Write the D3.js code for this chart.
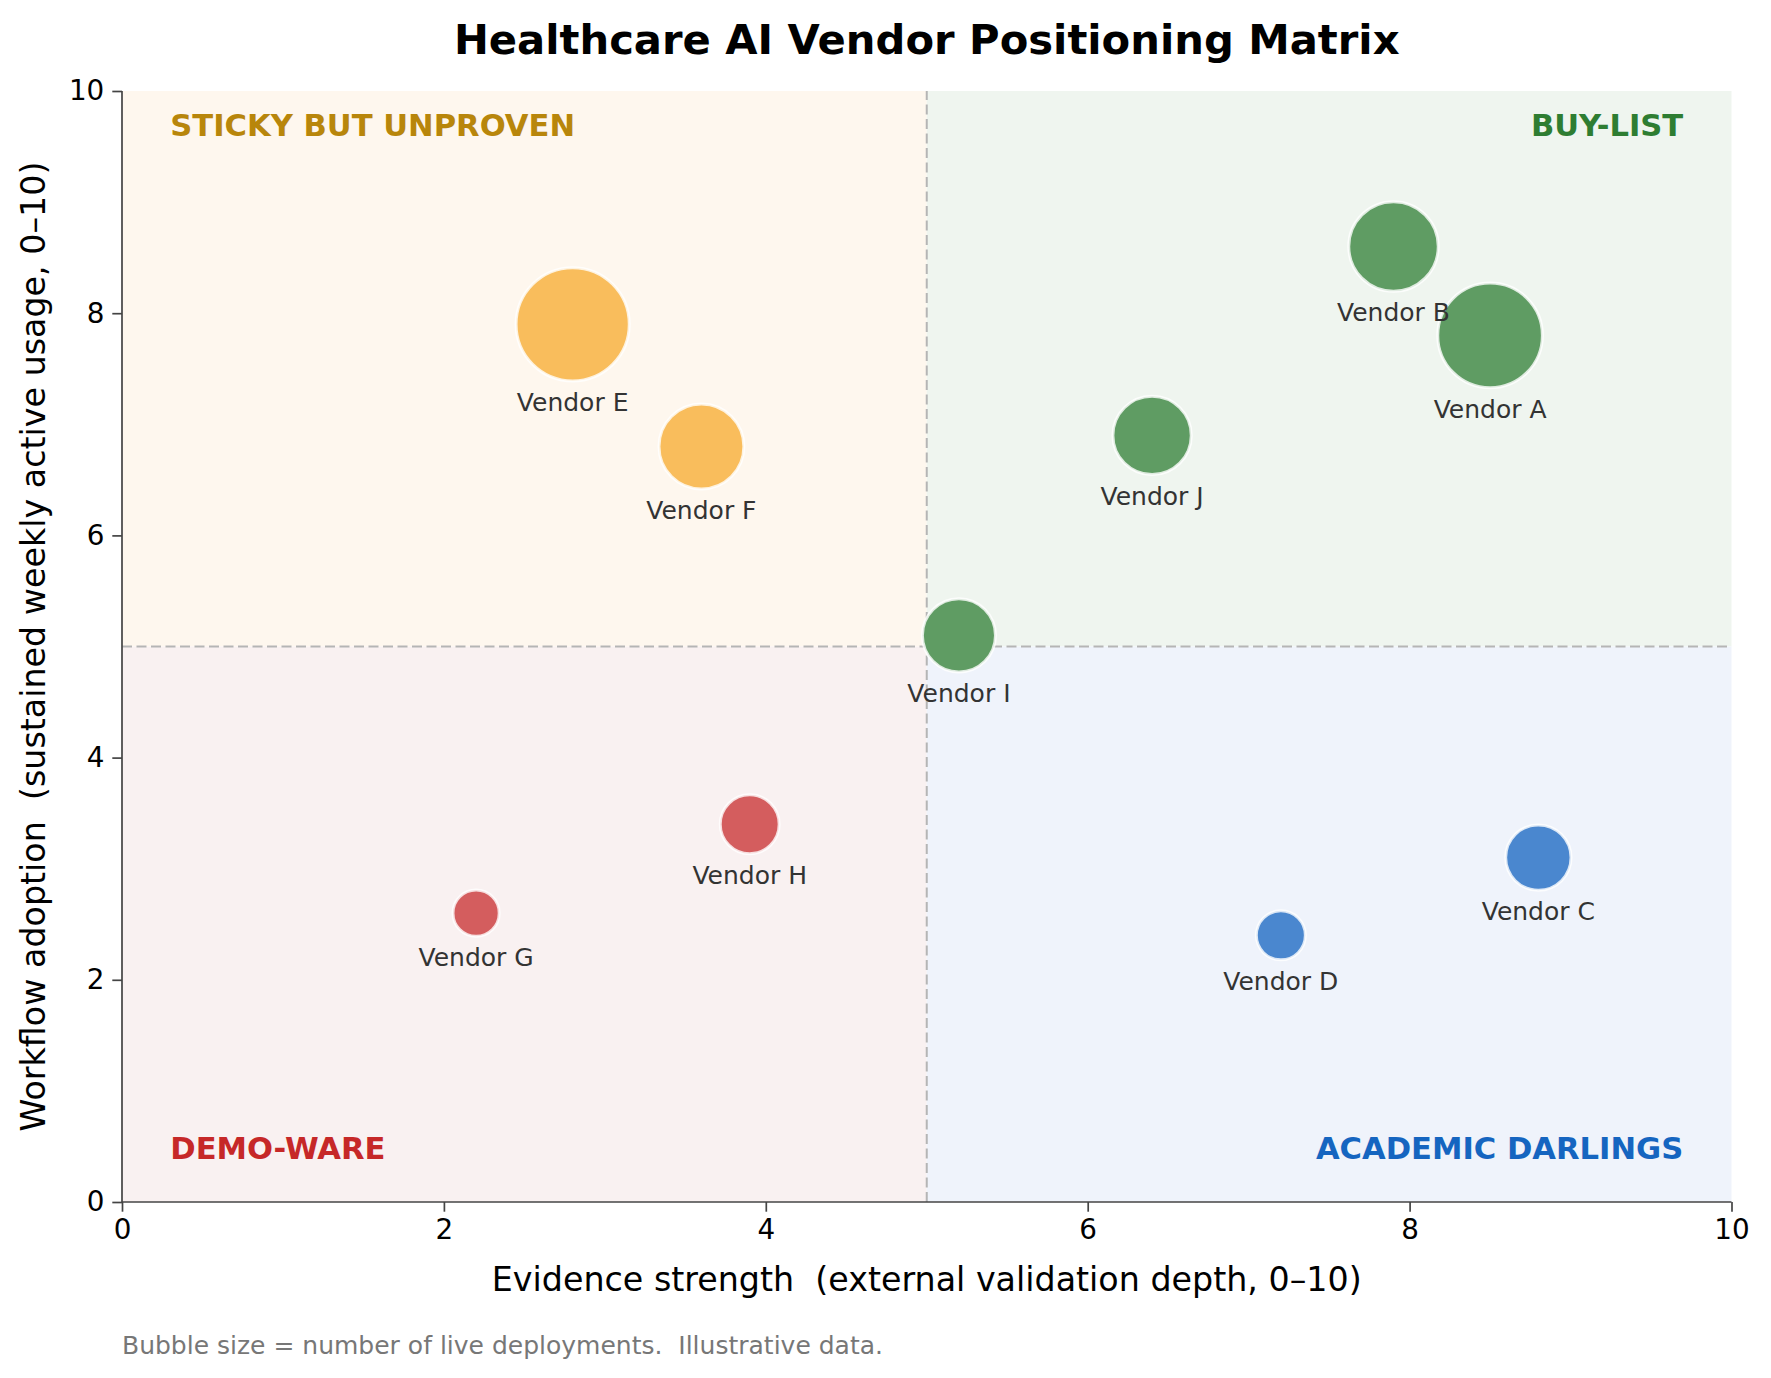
<!DOCTYPE html>
<html>
<head>
<meta charset="utf-8">
<script src="https://cdn.jsdelivr.net/npm/d3@7"></script>
<style>
  body { margin: 0; background: #fff; }
  text { font-family: "DejaVu Sans", sans-serif; white-space: pre; }
</style>
</head>
<body>
<script>
// chart data
var vendors = ["Vendor A", "Vendor B", "Vendor C", "Vendor D", "Vendor E",
               "Vendor F", "Vendor G", "Vendor H", "Vendor I", "Vendor J"];
var evidence = [8.5, 7.9, 8.8, 7.2, 2.8, 3.6, 2.2, 3.9, 5.2, 6.4];
var adoption = [7.8, 8.6, 3.1, 2.4, 7.9, 6.8, 2.6, 3.4, 5.1, 6.9];
var deployments = [41, 30, 16, 9, 48, 27, 8, 13, 20, 23];
var ticks = [0, 2, 4, 6, 8, 10];

var quadrants = [
  { name: "STICKY BUT UNPROVEN", x0: 0, x1: 5, y0: 5, y1: 10, fill: "#fef7ee", text: "#b8860b", bubble: "#f9bd5c" },
  { name: "BUY-LIST",            x0: 5, x1: 10, y0: 5, y1: 10, fill: "#eff5ef", text: "#2e7d32", bubble: "#5f9c63" },
  { name: "DEMO-WARE",           x0: 0, x1: 5, y0: 0, y1: 5, fill: "#f9f1f1", text: "#c62828", bubble: "#d45d5e" },
  { name: "ACADEMIC DARLINGS",   x0: 5, x1: 10, y0: 0, y1: 5, fill: "#eff3fb", text: "#1565c0", bubble: "#4a87cf" }
];

var width = 1771, height = 1378;
var margin = { left: 122, right: 1771 - 1731.5, top: 91, bottom: 1378 - 1202 };

var svg = d3.select("body").append("svg")
  .attr("width", width)
  .attr("height", height);

var x = d3.scaleLinear().domain([0, 10]).range([margin.left, width - margin.right]);
var y = d3.scaleLinear().domain([0, 10]).range([height - margin.bottom, margin.top]);
var r = d3.scaleSqrt().domain([0, 48]).range([0, 56.6]);

// which quadrant a vendor falls in
function quadOf(i) {
  var hiX = evidence[i] >= 5, hiY = adoption[i] >= 5;
  if (hiY && hiX) return quadrants[1];
  if (hiY) return quadrants[0];
  if (hiX) return quadrants[3];
  return quadrants[2];
}

// quadrant backgrounds
svg.append("g").selectAll("rect")
  .data(quadrants)
  .enter().append("rect")
  .attr("x", function(d) { return x(d.x0); })
  .attr("y", function(d) { return y(d.y1); })
  .attr("width", function(d) { return x(d.x1) - x(d.x0); })
  .attr("height", function(d) { return y(d.y0) - y(d.y1); })
  .attr("fill", function(d) { return d.fill; });

// divider lines
svg.append("line")
  .attr("x1", x(5)).attr("x2", x(5))
  .attr("y1", y(0)).attr("y2", y(10))
  .attr("stroke", "#b5b5b5").attr("stroke-width", 2)
  .attr("stroke-dasharray", "10,4.5");
svg.append("line")
  .attr("x1", x(0)).attr("x2", x(10))
  .attr("y1", y(5)).attr("y2", y(5))
  .attr("stroke", "#b5b5b5").attr("stroke-width", 2)
  .attr("stroke-dasharray", "10,4.5");

// quadrant labels
svg.append("g").selectAll("text")
  .data(quadrants)
  .enter().append("text")
  .attr("x", function(d) { return d.x0 === 0 ? x(0.3) : x(9.7); })
  .attr("y", function(d) { return d.y0 === 5 ? 136 : 1159; })
  .attr("text-anchor", function(d) { return d.x0 === 0 ? "start" : "end"; })
  .attr("font-size", 30.6)
  .attr("font-weight", "bold")
  .attr("fill", function(d) { return d.text; })
  .text(function(d) { return d.name; });

// bubbles
var idx = d3.range(vendors.length);
svg.append("g").selectAll("circle")
  .data(idx)
  .enter().append("circle")
  .attr("cx", function(i) { return x(evidence[i]); })
  .attr("cy", function(i) { return y(adoption[i]); })
  .attr("r", function(i) { return r(deployments[i]); })
  .attr("fill", function(i) { return quadOf(i).bubble; })
  .attr("stroke", "#fff")
  .attr("stroke-opacity", 0.8)
  .attr("stroke-width", 3);

// vendor labels
svg.append("g").selectAll("text")
  .data(idx)
  .enter().append("text")
  .attr("x", function(i) { return x(evidence[i]); })
  .attr("y", function(i) { return y(adoption[i]) + r(deployments[i]) + 30; })
  .attr("text-anchor", "middle")
  .attr("font-size", 25)
  .attr("fill", "#333")
  .text(function(i) { return vendors[i]; });

// axes
var xAxis = svg.append("g")
  .attr("transform", "translate(0," + y(0) + ")")
  .call(d3.axisBottom(x).tickValues(ticks).tickSize(9.7).tickPadding(8));
var yAxis = svg.append("g")
  .attr("transform", "translate(" + x(0) + ",0)")
  .call(d3.axisLeft(y).tickValues(ticks).tickSize(9.7).tickPadding(8));

[xAxis, yAxis].forEach(function(a) {
  a.select(".domain").attr("stroke", "#444").attr("stroke-width", 1.7);
  a.selectAll(".tick line").attr("stroke", "#444").attr("stroke-width", 1.7);
  a.selectAll(".tick text")
    .attr("font-size", 27.8)
    .attr("font-family", "DejaVu Sans, sans-serif")
    .attr("fill", "#000");
});
// axis domain without end caps
xAxis.select(".domain").attr("d", "M" + x(0) + ",0H" + x(10));
yAxis.select(".domain").attr("d", "M0," + y(0) + "V" + y(10));

// axis titles
svg.append("text")
  .attr("x", (x(0) + x(10)) / 2)
  .attr("y", 1291)
  .attr("text-anchor", "middle")
  .attr("font-size", 33.3)
  .attr("fill", "#000")
  .text("Evidence strength  (external validation depth, 0\u201310)");

svg.append("text")
  .attr("transform", "translate(45," + (y(0) + y(10)) / 2 + ") rotate(-90)")
  .attr("text-anchor", "middle")
  .attr("font-size", 33.3)
  .attr("fill", "#000")
  .text("Workflow adoption  (sustained weekly active usage, 0\u201310)");

// title
svg.append("text")
  .attr("x", (x(0) + x(10)) / 2)
  .attr("y", 54)
  .attr("text-anchor", "middle")
  .attr("font-size", 41.7)
  .attr("font-weight", "bold")
  .attr("fill", "#000")
  .text("Healthcare AI Vendor Positioning Matrix");

// footnote
svg.append("text")
  .attr("x", x(0))
  .attr("y", 1354)
  .attr("font-size", 25)
  .attr("fill", "#777")
  .text("Bubble size = number of live deployments.  Illustrative data.");
</script>
</body>
</html>
